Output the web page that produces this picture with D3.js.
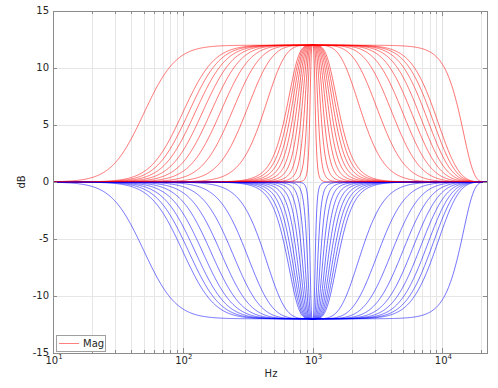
<!DOCTYPE html>
<html>
<head>
<meta charset="utf-8">
<script src="https://cdn.jsdelivr.net/npm/d3@7"></script>
<style>
  body { margin: 0; background: #fff; }
  svg { display: block; font-family: "DejaVu Sans", sans-serif; }
</style>
</head>
<body>
<svg id="chart"></svg>
<script>
// filter settings
const sampleRate = 44100;
const centerHz = 1000;
const gainsDb = [12, -12];
const gainColors = ["#ff0000", "#0000ff"];
// band widths (Hz, measured at half gain) of the band filters, narrow to wide
const bandwidthsHz = [100, 200, 300, 400, 500, 600, 700, 800, 900, 1000,
    2000, 3000, 4000, 5000, 6000, 7000, 8000, 9000, 10000, 20000];
const filterOrder = 2;

const yTicks = [-15, -10, -5, 0, 5, 10, 15];
const xDecades = [10, 100, 1000, 10000];
const xMinor = [2, 3, 4, 5, 6, 7, 8, 9];

const width = 498, height = 388;
const margin = { top: 11, right: 11, bottom: 35, left: 53 };

const svg = d3.select("#chart").attr("width", width).attr("height", height);

const x = d3.scaleLog().domain([10, sampleRate / 2]).range([margin.left, width - margin.right]);
const y = d3.scaleLinear().domain([-15, 15]).range([height - margin.bottom, margin.top]);

// butterworth band eq (bilinear warped), magnitude in dB
function bandResponse(gain, bw, freqs) {
    var G = Math.pow(10, gain / 20);
    var B = bw / centerHz;
    var t0 = Math.tan(Math.PI * centerHz / sampleRate);
    return freqs.map(f => {
        var W = Math.tan(Math.PI * Math.min(f, sampleRate / 2 - 0.01) / sampleRate) / t0;
        var u = Math.abs(W * W - 1) / (W * B);
        var v = G * Math.pow(u, 2 * filterOrder);
        var m2 = (G * G + v) / (1 + v);
        return { f: f, db: 10 * Math.log10(m2) };
    });
}

const freqs = d3.range(0, 900).map(i => 10 * Math.pow(sampleRate / 2 / 10, i / 899));

// grid
const grid = svg.append("g");
const minorFreqs = [];
xDecades.forEach(d => xMinor.forEach(m => { if (d * m < sampleRate / 2) minorFreqs.push(d * m); }));
grid.selectAll("line.vminor").data(minorFreqs).enter().append("line")
    .attr("x1", d => Math.round(x(d)) + 0.5).attr("x2", d => Math.round(x(d)) + 0.5)
    .attr("y1", margin.top).attr("y2", height - margin.bottom)
    .attr("stroke", "#e6e6e6").attr("stroke-width", 1);
grid.selectAll("line.vmajor").data(xDecades.slice(1)).enter().append("line")
    .attr("x1", d => Math.round(x(d)) + 0.5).attr("x2", d => Math.round(x(d)) + 0.5)
    .attr("y1", margin.top).attr("y2", height - margin.bottom)
    .attr("stroke", "#e0e0e0").attr("stroke-width", 1);
grid.selectAll("line.h").data(yTicks.slice(1, -1)).enter().append("line")
    .attr("x1", margin.left).attr("x2", width - margin.right)
    .attr("y1", d => Math.round(y(d)) + 0.5).attr("y2", d => Math.round(y(d)) + 0.5)
    .attr("stroke", "#e6e6e6").attr("stroke-width", 1);

// curves
const line = d3.line().x(d => x(d.f)).y(d => y(d.db));
const curves = svg.append("g");
bandwidthsHz.forEach(bw => {
    gainsDb.forEach((g, i) => {
        curves.append("path")
            .attr("d", line(bandResponse(g, bw, freqs)))
            .attr("fill", "none")
            .attr("stroke", gainColors[i])
            .attr("stroke-opacity", 0.8)
            .attr("stroke-width", 0.7);
    });
});

// box and ticks
const axisColor = "#8c8c8c";
svg.append("rect")
    .attr("x", margin.left + 0.5).attr("y", margin.top + 0.5)
    .attr("width", width - margin.left - margin.right).attr("height", height - margin.top - margin.bottom)
    .attr("fill", "none").attr("stroke", axisColor).attr("stroke-width", 1);

const ticks = svg.append("g").attr("stroke", axisColor);
const yb = height - margin.bottom, yt = margin.top;
minorFreqs.forEach(f => {
    var px = Math.round(x(f)) + 0.5;
    ticks.append("line").attr("x1", px).attr("x2", px).attr("y1", yb).attr("y2", yb - 3);
    ticks.append("line").attr("x1", px).attr("x2", px).attr("y1", yt).attr("y2", yt + 3);
});
xDecades.slice(1).forEach(f => {
    var px = Math.round(x(f)) + 0.5;
    ticks.append("line").attr("x1", px).attr("x2", px).attr("y1", yb).attr("y2", yb - 5);
    ticks.append("line").attr("x1", px).attr("x2", px).attr("y1", yt).attr("y2", yt + 5);
});
yTicks.forEach(t => {
    var py = Math.round(y(t)) + 0.5;
    ticks.append("line").attr("x1", margin.left).attr("x2", margin.left + 4).attr("y1", py).attr("y2", py);
    ticks.append("line").attr("x1", width - margin.right).attr("x2", width - margin.right - 4).attr("y1", py).attr("y2", py);
});

// tick labels
svg.append("g").selectAll("text").data(yTicks).enter().append("text")
    .attr("x", margin.left - 4).attr("y", d => y(d) - 1).attr("dy", "0.35em")
    .attr("text-anchor", "end").attr("font-size", 10).attr("fill", "#262626")
    .text(d => d);

const xl = svg.append("g").selectAll("text").data(xDecades).enter().append("text")
    .attr("x", d => x(d) + 1).attr("y", 364)
    .attr("text-anchor", "middle").attr("font-size", 10).attr("fill", "#262626");
xl.append("tspan").text("10");
xl.append("tspan").attr("dy", -5).attr("font-size", 7).text(d => Math.round(Math.log10(d)));

// axis labels
svg.append("text").attr("x", 271).attr("y", 377).attr("text-anchor", "middle")
    .attr("font-size", 10).attr("fill", "#262626").text("Hz");
svg.append("text").attr("transform", "translate(25," + y(0) + ") rotate(-90)")
    .attr("text-anchor", "middle").attr("font-size", 10).attr("fill", "#262626").text("dB");

// legend
const lg = svg.append("g");
lg.append("rect").attr("x", 56.5).attr("y", 335.5).attr("width", 49).attr("height", 16)
    .attr("fill", "#fff").attr("stroke", "#a0a0a0");
lg.append("line").attr("x1", 59).attr("x2", 79).attr("y1", 343.5).attr("y2", 343.5)
    .attr("stroke", gainColors[0]).attr("stroke-opacity", 0.5);
lg.append("text").attr("x", 83).attr("y", 347).attr("font-size", 10).attr("fill", "#262626").text("Mag");
</script>
</body>
</html>
